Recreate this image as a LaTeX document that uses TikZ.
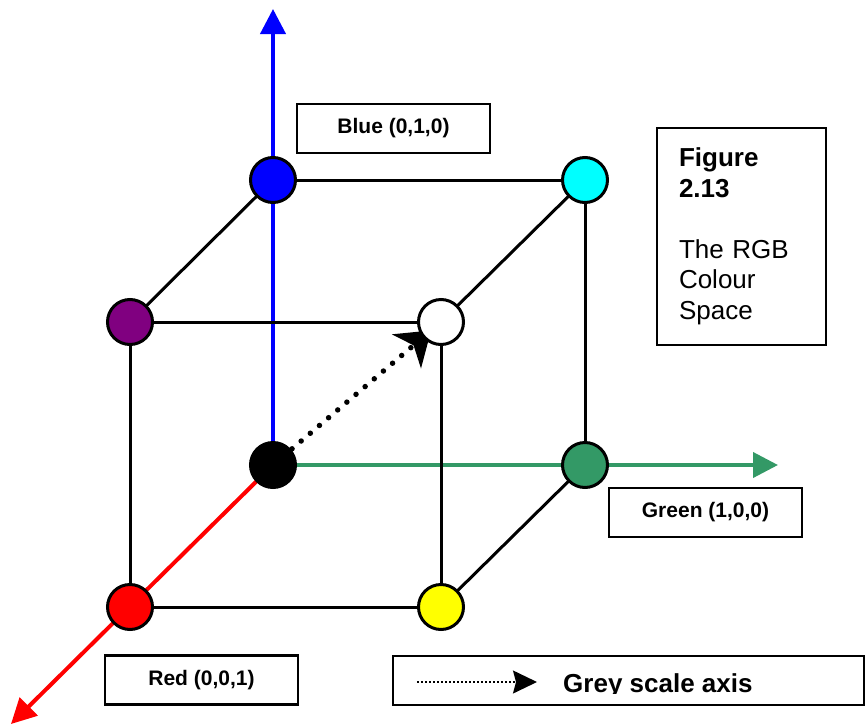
\documentclass[tikz,border=0pt]{standalone}
\usepackage{fontspec}
\setmainfont{Liberation Sans}
\usetikzlibrary{arrows.meta,backgrounds}
\definecolor{sgreen}{RGB}{51,153,102}
\definecolor{vpurple}{RGB}{128,0,128}
\definecolor{vcyan}{RGB}{0,255,255}
\definecolor{vblue}{RGB}{0,0,255}
\definecolor{vred}{RGB}{255,0,0}
\definecolor{vyellow}{RGB}{255,255,0}
\begin{document}
\begin{tikzpicture}[x=1pt,y=-1pt,
  vert/.style={circle, draw=black, line width=3pt, minimum size=45pt, inner sep=0pt},
  edge/.style={draw=black, line width=3pt},
  axis/.style={line width=4pt, -{Triangle[length=25pt,width=25pt]}},
  lbox/.style={draw=black, line width=2.5pt, minimum width=193pt, minimum height=49pt, inner sep=0pt, font=\bfseries\fontsize{21}{25}\selectfont},
]
\useasboundingbox (0,0) rectangle (865,726);
\node[vert, fill=black] (k) at (273,465) {};
\node[vert, fill=vblue] (b) at (273,180) {};
\node[vert, fill=vcyan] (c) at (585,180) {};
\node[vert, fill=vpurple] (m) at (130,322) {};
\node[vert, fill=white] (w) at (441,322) {};
\node[vert, fill=sgreen] (g) at (585,465) {};
\node[vert, fill=vred] (r) at (130,607) {};
\node[vert, fill=vyellow] (y) at (441,607) {};
\coordinate (btip) at (273,9);
\coordinate (gtip) at (778,465);
\coordinate (rtip) at (11,724);
\begin{scope}[on background layer]
\draw[axis, vblue] (k.center) -- (btip);
\draw[axis, sgreen] (k.center) -- (gtip);
\draw[axis, vred] (k.center) -- (rtip);
\draw[edge] (b.center) -- (c.center);
\draw[edge] (b.center) -- (m.center);
\draw[edge] (c.center) -- (w.center);
\draw[edge] (m.center) -- (w.center);
\draw[edge] (m.center) -- (r.center);
\draw[edge] (w.center) -- (y.center);
\draw[edge] (r.center) -- (y.center);
\draw[edge] (c.center) -- (g.center);
\draw[edge] (g.center) -- (y.center);
\draw[line width=5.5pt, dash pattern=on 0pt off 12pt, line cap=round, shorten <=25pt, shorten >=13pt, -{Stealth[length=32pt,width=44pt,inset=9pt]}] (k.center) -- (w.center);
\end{scope}
\node[lbox] (bl) at (393.5,128.5) {Blue (0,1,0)};
\node[lbox] (gl) at (705.5,512.5) {Green (1,0,0)};
\node[lbox] (rl) at (201.5,680) {Red (0,0,1)};
\node[draw=black, line width=2.5pt, minimum width=169pt, minimum height=217pt, text width=125pt, inner xsep=22pt, inner ysep=0pt, align=left, font=\fontsize{26}{30.5}\selectfont] (fig) at (741.5,236.5) {\textbf{Figure}\\\textbf{2.13}\\[30.5pt]The RGB\\Colour\\Space};
\node[draw=black, line width=2.5pt, minimum width=471pt, minimum height=49pt, inner sep=0pt] (leg) at (628.5,680.5) {};
\coordinate (la) at (417,682);
\coordinate (lb) at (537,682);
\draw[line width=1.5pt, dash pattern=on 1.5pt off 2.5pt, -{Stealth[length=24pt,width=23pt,inset=3pt]}] (la) -- (lb);
\begin{scope}
\clip (395,658) rectangle (862,693);
\node[anchor=base west, inner sep=0pt, font=\bfseries\fontsize{26}{30}\selectfont] (gs) at (563,692) {Grey scale axis};
\end{scope}
\end{tikzpicture}
\end{document}
